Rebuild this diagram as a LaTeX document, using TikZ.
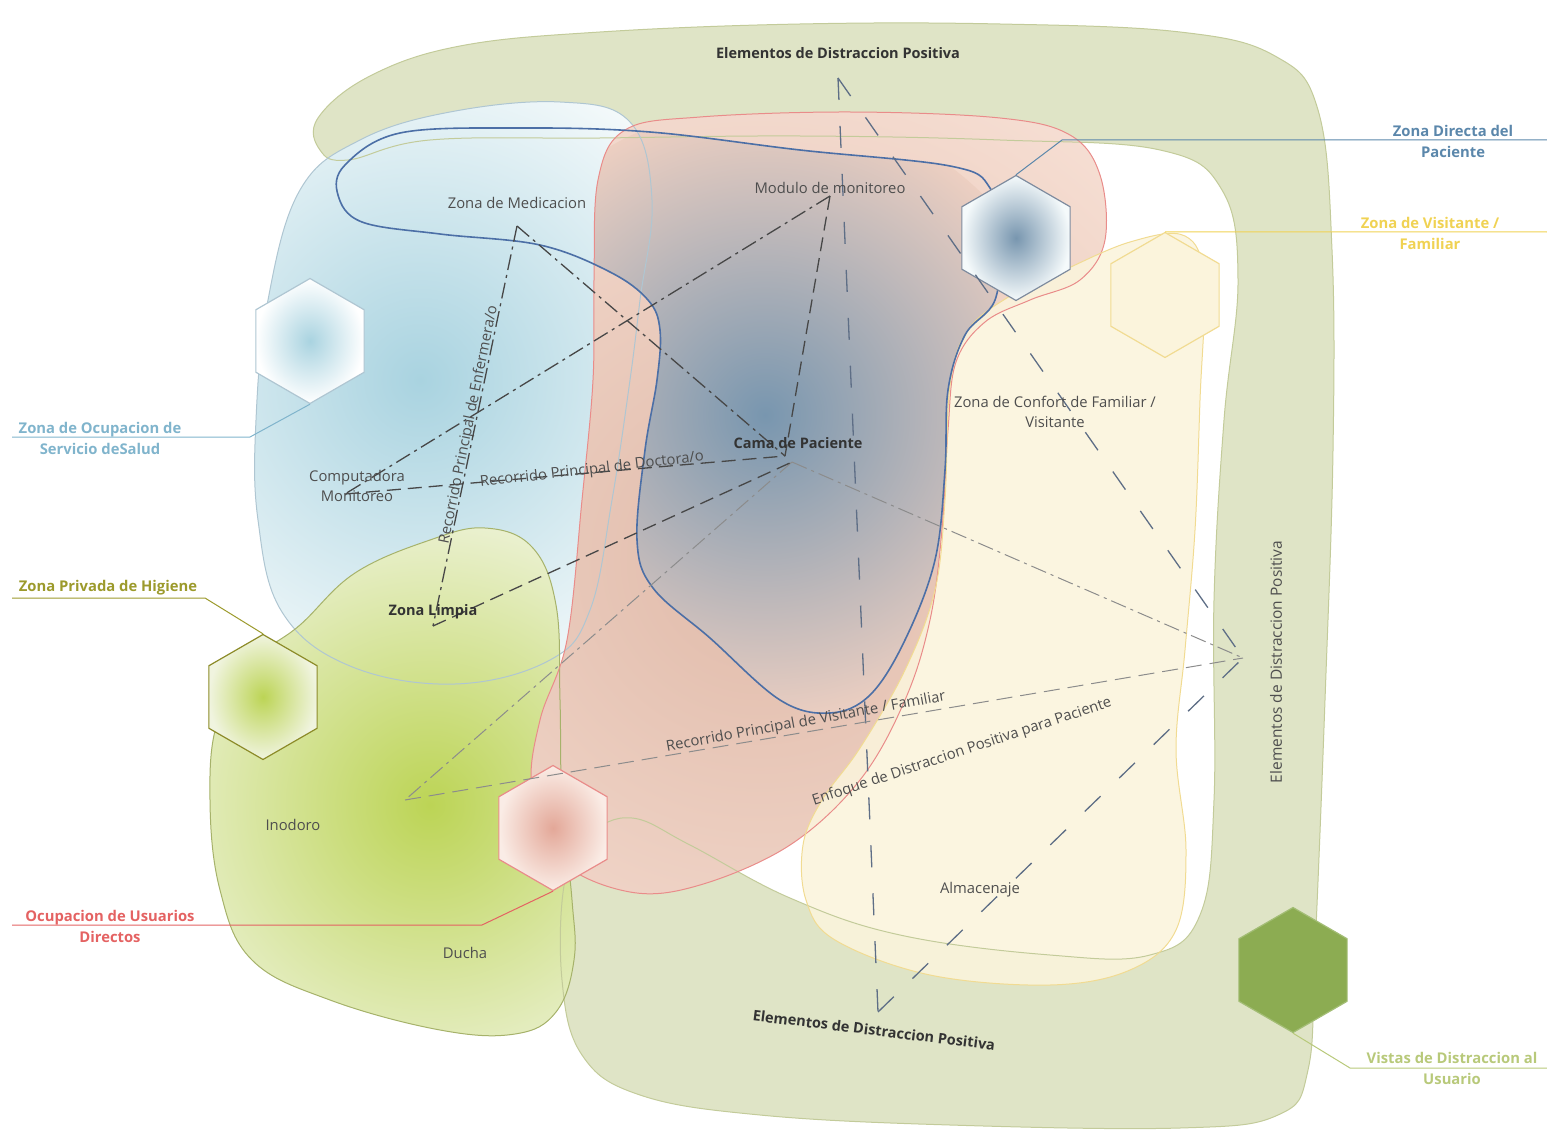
\documentclass[tikz,border=0pt]{standalone}
\usepackage{fontspec}
\setmainfont{Open Sans}
\usetikzlibrary{shapes.geometric}

\definecolor{bandfill}{HTML}{DFE4C6}
\definecolor{bandline}{HTML}{C3CB9A}
\definecolor{saludin}{HTML}{A9D3E0}
\definecolor{saludout}{HTML}{F5FAFB}
\definecolor{saludline}{HTML}{AFC6D2}
\definecolor{higin}{HTML}{BCD455}
\definecolor{higout}{HTML}{F0F4DF}
\definecolor{higline}{HTML}{A6B26A}
\definecolor{usuin}{HTML}{E0BAA9}
\definecolor{usuout}{HTML}{F7E0D5}
\definecolor{usuline}{HTML}{E98C8A}
\definecolor{visfill}{HTML}{FBF4DC}
\definecolor{visline}{HTML}{F1DB92}
\definecolor{dirin}{HTML}{7896AF}
\definecolor{dirline}{HTML}{4C6FA6}
\definecolor{txtgray}{HTML}{4E4E4E}
\definecolor{walkgray}{HTML}{474747}
\definecolor{visitgray}{HTML}{8C8C8C}
\definecolor{gazeblue}{HTML}{5E6E86}
\definecolor{tagdir}{HTML}{5B87AB}
\definecolor{tagvis}{HTML}{F0D253}
\definecolor{tagsal}{HTML}{80B4CC}
\definecolor{taghig}{HTML}{9C9A2C}
\definecolor{tagusu}{HTML}{E46262}
\definecolor{tagvist}{HTML}{B8C97A}
\definecolor{vistafill}{HTML}{8CAC52}

% zone outlines
\newcommand\zoneband{plot[smooth cycle, tension=0.65] coordinates {
  (318,118) (370,76) (460,46) (600,32) (800,24) (1000,24) (1180,32)
  (1275,56) (1318,110) (1332,250) (1333,450) (1325,700) (1315,950)
  (1308,1070) (1278,1115) (1180,1128) (950,1125) (760,1115) (640,1095)
  (582,1055) (562,980) (565,880) (590,835) (632,818) (690,845)
  (790,898) (900,935) (1050,955) (1150,955) (1200,915) (1214,800)
  (1214,600) (1224,420) (1238,280) (1222,190) (1160,150) (1000,140)
  (800,136) (600,138) (430,140) (348,160) (320,150)}}
\newcommand\zonesalud{plot[smooth cycle, tension=0.65] coordinates {
  (300,190) (360,140) (450,112) (560,102) (630,122) (652,200)
  (640,300) (630,380) (612,500) (590,610) (550,660) (455,684)
  (350,666) (282,612) (258,520) (256,420) (268,300)}}
\newcommand\zonehigiene{plot[smooth cycle, tension=0.65] coordinates {
  (300,625) (355,573) (430,540) (485,528) (532,547) (556,605)
  (560,700) (562,800) (572,900) (574,960) (556,1012) (515,1034)
  (440,1030) (330,1000) (252,960) (220,890) (210,800) (218,720)
  (255,660)}}
\newcommand\zoneusuario{plot[smooth cycle, tension=0.6] coordinates {
  (700,117) (850,112) (1000,118) (1070,135) (1100,175) (1105,240)
  (1080,280) (1030,300) (985,322) (956,362) (948,430) (942,530)
  (930,620) (905,700) (860,780) (790,845) (700,885) (630,892)
  (560,860) (532,790) (540,720) (567,640) (582,500) (593,380)
  (594,280) (598,180) (625,130)}}
\newcommand\zonevisita{plot[smooth cycle, tension=0.6] coordinates {
  (1010,296) (1060,272) (1130,242) (1185,236) (1204,280) (1200,400)
  (1195,530) (1185,650) (1176,750) (1186,850) (1176,930) (1130,970)
  (1050,985) (930,975) (835,940) (806,900) (803,845) (822,800)
  (860,748) (905,670) (935,590) (945,500) (950,385) (968,330)}}
\newcommand\zonedirecta{plot[smooth cycle, tension=0.6] coordinates {
  (345,165) (400,133) (520,128) (650,132) (800,150) (950,166)
  (990,188) (1000,240) (995,300) (965,335) (948,390) (945,470)
  (935,560) (905,640) (870,695) (830,713) (780,700) (710,638)
  (653,588) (637,540) (645,450) (657,380) (660,330) (648,300)
  (610,272) (540,245) (440,234) (362,222) (338,195)}}

\tikzset{
  zone/.style={line width=1pt},
  hexa/.style={regular polygon, regular polygon sides=6, shape border rotate=30,
    minimum size=125pt, inner sep=0pt, line width=1.2pt},
  lbl/.style={text=txtgray, font=\fontsize{14.8}{20}\selectfont, align=center},
  lblb/.style={lbl, text=black!80, font=\bfseries\fontsize{14.5}{20}\selectfont},
  tag/.style={font=\bfseries\fontsize{14.8}{21}\selectfont, align=center},
  walk/.style={draw=walkgray, line width=1.3pt, dash pattern=on 16pt off 5pt on 3pt off 5pt},
  walkdash/.style={draw=walkgray, line width=1.3pt, dash pattern=on 14pt off 7pt},
  visit/.style={draw=visitgray, line width=1pt, dash pattern=on 16pt off 5pt on 3pt off 5pt},
  gaze/.style={draw=gazeblue, line width=1.3pt, dash pattern=on 22pt off 26pt},
}

\begin{document}
\begin{tikzpicture}[x=1pt,y=-1pt]
\useasboundingbox (0,0) rectangle (1547,1134);

% zonas
\fill[bandfill] \zoneband;
\begin{scope}
  \clip \zonesalud;
  \shade[inner color=saludin, outer color=saludout] (420,380) circle (340);
\end{scope}
\begin{scope}
  \clip \zonehigiene;
  \shade[inner color=higin, outer color=higout] (430,805) circle (320);
\end{scope}
\begin{scope}
  \clip \zoneusuario;
  \shade[inner color=usuin, outer color=usuout] (760,560) circle (560);
\end{scope}
\fill[visfill, fill opacity=0.88] \zonevisita;
\begin{scope}
  \clip \zonedirecta;
  \clip \zoneusuario;
  \shade[inner color=dirin, outer color=usuin!45!usuout] (765,415) circle (310);
\end{scope}

\draw[zone, bandline] \zoneband;
\draw[zone, saludline] \zonesalud;
\draw[zone, higline] \zonehigiene;
\draw[zone, usuline] \zoneusuario;
\draw[zone, visline] \zonevisita;
\draw[dirline, line width=1.6pt] \zonedirecta;

% hexagonos
\node[hexa, draw=saludline, inner color=saludin, outer color=white, shade] (hexsalud) at (310,341) {};
\node[hexa, draw=gazeblue!80, inner color=dirin, outer color=saludout, shade] (hexdirecta) at (1016,238) {};
\node[hexa, draw=visline, fill=visfill] (hexvisita) at (1165,295) {};
\node[hexa, draw=taghig!90!black, inner color=higin, outer color=higout, shade] (hexhigiene) at (263,697) {};
\node[hexa, draw=usuline, inner color=usuin!90!red, outer color=usuout!60!white, shade] (hexusuario) at (553,828) {};
\node[hexa, draw=vistafill!80!white, fill=vistafill] (hexvistas) at (1293,970) {};

% puntos de recorrido
\coordinate (medic) at (517,226);
\coordinate (modulo) at (830,196);
\coordinate (cama) at (785,456);
\coordinate (camab) at (792,462);
\coordinate (compu) at (345,494);
\coordinate (limpia) at (433,626);
\coordinate (inodoro) at (405,800);
\coordinate (elemtop) at (838,78);
\coordinate (elembot) at (878,1012);
\coordinate (elemder) at (1243,658);

\draw[gaze] (elemtop) -- (elembot);
\draw[gaze] (elemtop) -- (elemder);
\draw[gaze] (elembot) -- (elemder);
\draw[visit] (camab) -- (inodoro);
\draw[visit] (camab) -- (elemder);
\draw[visit, dash pattern=on 16pt off 8pt] (inodoro) -- (elemder);
\draw[walk] (medic) -- (cama);
\draw[walk] (medic) -- (limpia);
\draw[walkdash] (limpia) -- (camab);
\draw[walkdash] (compu) -- (cama);
\draw[walkdash] (modulo) -- (cama);
\draw[walk] (modulo) -- (compu);

% leyendas
\coordinate (bordedir) at (1547,140);
\coordinate (bordevis) at (1547,232);
\coordinate (bordesal) at (12,437);
\coordinate (bordehig) at (12,598);
\coordinate (bordeusu) at (12,925);
\coordinate (bordevist) at (1547,1068);
\draw[tagdir, line width=1pt] (hexdirecta.north) -- (1062,140) -- (bordedir);
\draw[tagvis, line width=1pt] (hexvisita.north) -- (bordevis);
\draw[tagsal, line width=1pt] (hexsalud.south) -- (250,437) -- (bordesal);
\draw[taghig, line width=1pt] (hexhigiene.north) -- (205,598) -- (bordehig);
\draw[tagusu, line width=1pt] (hexusuario.south) -- (482,925) -- (bordeusu);
\draw[tagvist, line width=1pt] (hexvistas.south) -- (1350,1068) -- (bordevist);

\node[tag, text=tagdir] (tdirecta) at (1453,141) {Zona Directa del\\Paciente};
\node[tag, text=tagvis] (tvisita) at (1430,233) {Zona de Visitante /\\Familiar};
\node[tag, text=tagsal] (tsalud) at (100,438) {Zona de Ocupacion de\\Servicio deSalud};
\node[tag, text=taghig] (thigiene) at (108,588) {Zona Privada de Higiene};
\node[tag, text=tagusu] (tusuario) at (110,926) {Ocupacion de Usuarios\\Directos};
\node[tag, text=tagvist] (tvistas) at (1452,1068) {Vistas de Distraccion al\\Usuario};

% textos
\node[lblb, font=\bfseries\fontsize{14.5}{15}\selectfont] (elemtxttop) at (838,53) {Elementos de Distraccion Positiva};
\node[lblb, font=\bfseries\fontsize{14.5}{15}\selectfont, rotate=-7] (elemtxtbot) at (874,1030) {Elementos de Distraccion Positiva};
\node[lbl, font=\fontsize{15.5}{18}\selectfont, rotate=90] (elemtxtder) at (1276,662) {Elementos de Distraccion Positiva};
\node[lbl] (tmedic) at (517,203) {Zona de Medicacion};
\node[lbl] (tmodulo) at (830,188) {Modulo de monitoreo};
\node[lblb] (tcama) at (798,443) {Cama de Paciente};
\node[lbl] (tcompu) at (357,486) {Computadora\\Monitoreo};
\node[lblb] (tlimpia) at (433,612) {Zona Limpia};
\node[lbl] (tconfort) at (1055,412) {Zona de Confort de Familiar /\\Visitante};
\node[lbl] (tinodoro) at (293,825) {Inodoro};
\node[lbl] (tducha) at (465,953) {Ducha};
\node[lbl] (talmacen) at (980,890) {Almacenaje};
\node[lbl, rotate=78.4] (tenfermera) at (469,425) {Recorrido Principal de Enfermera/o};
\node[lbl, rotate=6.6] (tdoctora) at (592,470) {Recorrido Principal de Doctora/o};
\node[lbl, rotate=10.3] (tvisitante) at (806,722) {Recorrido Principal de Visitante / Familiar};
\node[lbl, rotate=18.4] (tenfoque) at (962,752) {Enfoque de Distraccion Positiva para Paciente};
\end{tikzpicture}
\end{document}
